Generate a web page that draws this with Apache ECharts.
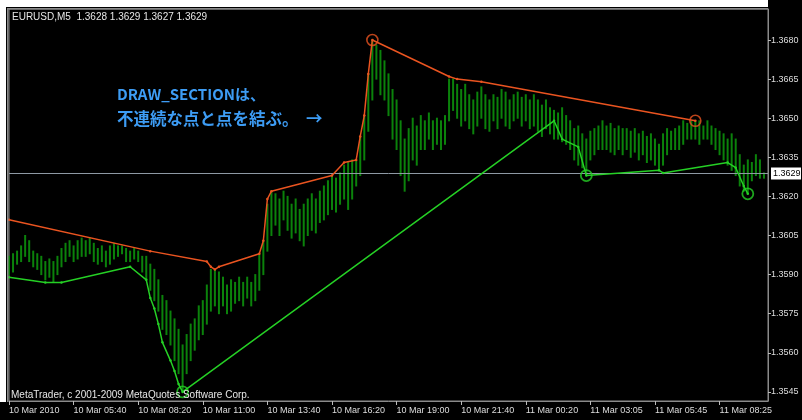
<!DOCTYPE html>
<html><head><meta charset="utf-8">
<script src="https://cdn.jsdelivr.net/npm/echarts@6/dist/echarts.min.js"></script>
<style>html,body{margin:0;padding:0;background:#000;}#c{width:802px;height:420px;}</style>
</head><body><div id="c"></div>
<script>
const xTickLabels = ['10 Mar 2010','10 Mar 05:40','10 Mar 08:20','10 Mar 11:00','10 Mar 13:40','10 Mar 16:20','10 Mar 19:00','10 Mar 21:40','11 Mar 00:20','11 Mar 03:05','11 Mar 05:45','11 Mar 08:25'];
const yTickLabels = ['1.3545','1.3560','1.3575','1.3590','1.3605','1.3620','1.3635','1.3650','1.3665','1.3680'];
const lastPrice = 1.3629;
const headerText = 'EURUSD,M5  1.3628 1.3629 1.3627 1.3629';
const copyrightText = 'MetaTrader, c 2001-2009 MetaQuotes Software Corp.';
const noteLines = ['DRAW_SECTIONは、', '不連続な点と点を結ぶ。  →'];

const barHigh = [
1.3597,1.3598,1.3599,1.3601,1.3605,1.3603,1.3599,1.3598,1.3597,1.3595,
1.3596,1.3595,1.3597,1.3600,1.3602,1.3603,1.3601,1.3603,1.3604,1.3603,
1.3604,1.3602,1.3600,1.3601,1.3599,1.3601,1.3602,1.3601,1.3601,1.3600,
1.3599,1.3600,1.3599,1.3597,1.3597,1.3594,1.3592,1.3588,1.3582,1.3580,
1.3576,1.3573,1.3569,1.3563,1.3567,1.3571,1.3573,1.3578,1.3580,1.3586,
1.3592,1.3592,1.3591,1.3589,1.3586,1.3588,1.3587,1.3589,1.3587,1.3589,
1.3587,1.3590,1.3598,1.3603,1.3617,1.3622,1.3621,1.3619,1.3622,1.3620,
1.3617,1.3619,1.3615,1.3617,1.3619,1.3621,1.3619,1.3622,1.3624,1.3626,
1.3628,1.3627,1.3629,1.3632,1.3633,1.3634,1.3634,1.3643,1.3651,1.3667,
1.3680,1.3678,1.3676,1.3672,1.3667,1.3661,1.3657,1.3649,1.3642,1.3646,
1.3650,1.3647,1.3651,1.3649,1.3652,1.3649,1.3650,1.3649,1.3651,1.3665,
1.3665,1.3663,1.3661,1.3663,1.3659,1.3657,1.3660,1.3662,1.3659,1.3657,
1.3659,1.3658,1.3661,1.3660,1.3657,1.3659,1.3660,1.3658,1.3659,1.3657,
1.3659,1.3657,1.3655,1.3657,1.3654,1.3653,1.3652,1.3654,1.3651,1.3649,
1.3646,1.3647,1.3644,1.3642,1.3645,1.3646,1.3647,1.3649,1.3647,1.3648,
1.3646,1.3647,1.3646,1.3646,1.3645,1.3646,1.3644,1.3645,1.3643,1.3644,
1.3642,1.3640,1.3644,1.3646,1.3645,1.3646,1.3647,1.3649,1.3648,1.3649,
1.3649,1.3649,1.3647,1.3649,1.3647,1.3646,1.3645,1.3644,1.3642,1.3644,
1.3642,1.3636,1.3632,1.3634,1.3633,1.3636,1.3634,1.3629];

const barLow = [
1.3590,1.3591,1.3594,1.3595,1.3597,1.3595,1.3593,1.3592,1.3590,1.3588,
1.3589,1.3587,1.3590,1.3593,1.3595,1.3597,1.3595,1.3596,1.3597,1.3597,
1.3598,1.3595,1.3594,1.3595,1.3593,1.3594,1.3596,1.3597,1.3598,1.3595,
1.3595,1.3596,1.3595,1.3591,1.3588,1.3584,1.3580,1.3576,1.3569,1.3567,
1.3563,1.3557,1.3552,1.3545,1.3552,1.3557,1.3561,1.3565,1.3567,1.3571,
1.3576,1.3578,1.3575,1.3578,1.3575,1.3576,1.3579,1.3580,1.3578,1.3581,
1.3578,1.3580,1.3584,1.3590,1.3599,1.3605,1.3609,1.3605,1.3611,1.3607,
1.3604,1.3606,1.3603,1.3601,1.3605,1.3607,1.3606,1.3610,1.3611,1.3613,
1.3615,1.3614,1.3617,1.3619,1.3615,1.3619,1.3624,1.3628,1.3634,1.3645,
1.3657,1.3665,1.3659,1.3657,1.3651,1.3642,1.3638,1.3628,1.3622,1.3626,
1.3634,1.3632,1.3638,1.3638,1.3642,1.3638,1.3640,1.3638,1.3640,1.3649,
1.3653,1.3650,1.3647,1.3649,1.3646,1.3644,1.3647,1.3650,1.3646,1.3645,
1.3649,1.3646,1.3650,1.3647,1.3646,1.3649,1.3650,1.3647,1.3649,1.3646,
1.3647,1.3645,1.3643,1.3646,1.3644,1.3642,1.3642,1.3641,1.3640,1.3638,
1.3634,1.3632,1.3631,1.3628,1.3634,1.3636,1.3638,1.3638,1.3638,1.3637,
1.3636,1.3638,1.3636,1.3638,1.3635,1.3637,1.3634,1.3636,1.3633,1.3634,
1.3632,1.3630,1.3632,1.3636,1.3638,1.3638,1.3638,1.3640,1.3642,1.3642,
1.3642,1.3640,1.3642,1.3642,1.3640,1.3638,1.3636,1.3634,1.3632,1.3630,
1.3628,1.3624,1.3622,1.3621,1.3626,1.3628,1.3627,1.3627];

const orangeIdx = [0,35,49,50,51,52,62,63,64,65,80,83,86,87,88,89,90,109,111,117,170];
const orangeVal = [1.3611,1.3599,1.3595,1.3593,1.3592,1.3593,1.3598,1.3603,1.3619,1.3622,1.3628,1.3633,1.3634,1.3643,1.3651,1.3667,1.3680,1.3666,1.3665,1.3664,1.3649];
const greenIdx = [0,9,13,30,34,35,36,37,38,40,41,42,43,135,137,141,143,161,162,178,180,182,183];
const greenVal = [1.3589,1.3587,1.3587,1.3593,1.3588,1.3581,1.3577,1.3571,1.3564,1.3557,1.3553,1.3548,1.3545,1.3649,1.3642,1.3639,1.3628,1.3630,1.3629,1.3633,1.3631,1.3624,1.3621];
const orangeCircleIdx = [90,170];
const greenCircleIdx = [43,143,183];

const CAT_COUNT = 189;
const cats = Array.from({length: CAT_COUNT}, (_, i) => String(i));
function sparse(idx, val) { const a = new Array(CAT_COUNT).fill(null); idx.forEach((k, j) => { a[k] = val[j]; }); return a; }
const yTickVals = yTickLabels.map(Number);
const ORANGE = '#ea5420', GREEN = '#25d025', BAR = '#0b820b';

const chart = echarts.init(document.getElementById('c'), null, {renderer: 'canvas'});
chart.setOption({
  animation: false,
  backgroundColor: '#000',
  grid: {left: 9, top: 9, width: 759, height: 392, show: true, borderColor: '#8a8a8a', borderWidth: 1, backgroundColor: '#000'},
  xAxis: {
    type: 'category', data: cats, boundaryGap: false,
    axisLine: {show: true, lineStyle: {color: '#8a8a8a'}},
    axisTick: {show: true, interval: 15, length: 4, lineStyle: {color: '#bbbbbb'}},
    axisLabel: {interval: 15, align: 'left', margin: 5, color: '#dddddd', fontSize: 9, fontFamily: 'Liberation Sans',
      formatter: (v, i) => xTickLabels[i / 16] || ''},
    splitLine: {show: false}
  },
  yAxis: {
    type: 'value', position: 'right', min: 1.35415, max: 1.36919,
    axisLine: {show: true, lineStyle: {color: '#8a8a8a'}},
    axisTick: {show: true, customValues: yTickVals, length: 3, lineStyle: {color: '#bbbbbb'}},
    axisLabel: {customValues: yTickVals, margin: 3, color: '#dddddd', fontSize: 9, fontFamily: 'Liberation Sans',
      formatter: v => { const k = yTickVals.findIndex(t => Math.abs(t - v) < 1e-7); return k >= 0 ? yTickLabels[k] : v.toFixed(4); }},
    splitLine: {show: false}
  },
  graphic: [
    {type: 'rect', shape: {x: 0, y: 0, width: 768, height: 7}, style: {fill: '#ffffff'}, z: 100},
    {type: 'rect', shape: {x: 0, y: 0, width: 6, height: 402}, style: {fill: '#ffffff'}, z: 100},
    {type: 'rect', shape: {x: 7, y: 8, width: 761, height: 1.5}, style: {fill: '#8a8a8a'}, z: 100},
    {type: 'rect', shape: {x: 7, y: 8, width: 1.5, height: 394}, style: {fill: '#8a8a8a'}, z: 100},
    {type: 'text', left: 12, top: 12, style: {text: headerText, fill: '#e6e6e6', font: '10px "Liberation Sans"'}, z: 100},
    {type: 'text', left: 11, top: 390, style: {text: copyrightText, fill: '#e6e6e6', font: '10px "Liberation Sans"'}, z: 100},
    {type: 'text', left: 117, top: 87, style: {text: noteLines[0], fill: '#3d9cf4', font: 'bold 15px "Noto Sans CJK JP"'}, z: 100},
    {type: 'text', left: 117, top: 110, style: {text: noteLines[1], fill: '#3d9cf4', font: 'bold 16.5px "Noto Sans CJK JP"'}, z: 100}
  ],
  series: [
    {
      type: 'custom', name: 'bars', z: 2,
      data: barHigh.map((h, i) => [i, h, barLow[i]]),
      encode: {x: 0, y: [1, 2]},
      renderItem: (params, api) => {
        const a = api.coord([api.value(0), api.value(1)]);
        const b = api.coord([api.value(0), api.value(2)]);
        return {type: 'line', shape: {x1: a[0], y1: a[1] - 0.5, x2: b[0], y2: b[1] + 0.5}, style: {stroke: BAR, lineWidth: 2}};
      }
    },
    {
      type: 'custom', name: 'lastPrice', z: 3, silent: true,
      data: [[0, lastPrice, CAT_COUNT - 1]],
      encode: {x: [0, 2], y: 1},
      renderItem: (params, api) => {
        const a = api.coord([api.value(0), api.value(1)]);
        const b = api.coord([api.value(2), api.value(1)]);
        const y = Math.round(a[1]) + 0.5;
        return {type: 'group', children: [
          {type: 'line', shape: {x1: a[0], y1: y, x2: b[0], y2: y}, style: {stroke: '#8e99a4', lineWidth: 1}},
          {type: 'rect', shape: {x: b[0] + 3, y: y - 6, width: 30, height: 12}, style: {fill: '#ffffff'}},
          {type: 'text', x: b[0] + 5, y: y, style: {text: api.value(1).toFixed(4), fill: '#000', font: '9px "Liberation Sans"', verticalAlign: 'middle', align: 'left'}}
        ]};
      }
    },
    {
      type: 'line', name: 'upper', z: 4, data: sparse(orangeIdx, orangeVal), connectNulls: true,
      showSymbol: true, showAllSymbol: true, symbol: 'circle', symbolSize: 2.5,
      lineStyle: {color: ORANGE, width: 1.5}, itemStyle: {color: ORANGE}
    },
    {
      type: 'line', name: 'lower', z: 4, data: sparse(greenIdx, greenVal), connectNulls: true,
      showSymbol: true, showAllSymbol: true, symbol: 'circle', symbolSize: 2.5,
      lineStyle: {color: GREEN, width: 1.5}, itemStyle: {color: GREEN}
    },
    {
      type: 'scatter', z: 5, symbol: 'circle', symbolSize: 11,
      data: orangeCircleIdx.map(k => [k, orangeVal[orangeIdx.indexOf(k)]]),
      itemStyle: {color: 'rgba(0,0,0,0)', borderColor: ORANGE, borderWidth: 1.6}
    },
    {
      type: 'scatter', z: 5, symbol: 'circle', symbolSize: 11,
      data: greenCircleIdx.map(k => [k, greenVal[greenIdx.indexOf(k)]]),
      itemStyle: {color: 'rgba(0,0,0,0)', borderColor: GREEN, borderWidth: 1.8}
    }
  ]
});
</script></body></html>
